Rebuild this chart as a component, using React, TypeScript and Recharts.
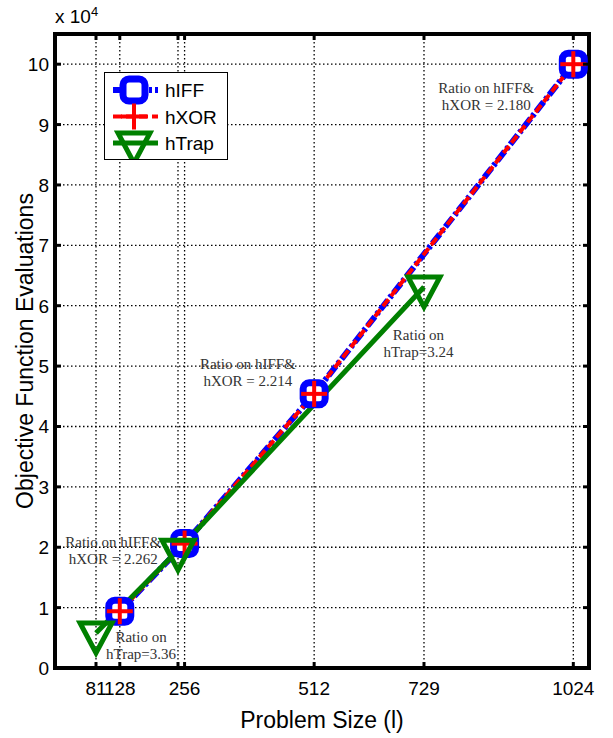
import React from "react"
import { CartesianGrid, Line, LineChart, ReferenceDot, XAxis, YAxis } from "recharts"

// problem sizes (x) and evaluations (y)
const iffSizes = [128, 256, 512, 1024]
const iffEvals = [9400, 20600, 45400, 100000]
const xorSizes = [128, 256, 512, 1024]
const xorEvals = [9400, 20600, 45400, 100000]
const trapSizes = [81, 243, 729]
const trapEvals = [5800, 19500, 63100]

const xTicks = [81, 128, 243, 256, 512, 729, 1024]
const yTicks = [0, 10000, 20000, 30000, 40000, 50000, 60000, 70000, 80000, 90000, 100000]

const noteX = [852, 718, 381, 115, 170]
const noteY = [94700, 53900, 49100, 19550, 3850]
const noteText = [
  ["Ratio on hIFF&", "hXOR = 2.180"],
  ["Ratio on", "hTrap=3.24"],
  ["Ratio on hIFF&", "hXOR = 2.214"],
  ["Ratio on hIFF&", "hXOR = 2.262"],
  ["Ratio on", "hTrap=3.36"],
]

const toPoints = (xs: number[], ys: number[]) => xs.map((x, i) => ({ x, y: ys[i] }))

const SANS = "'Liberation Sans', Arial, sans-serif"
const SERIF = "'Liberation Serif', 'Times New Roman', serif"
const BLUE = "#0000ff"
const RED = "#ff0000"
const GREEN = "#008000"

const CircleMark = ({ cx, cy }: { cx: number; cy: number }) => (
  <rect x={cx - 11} y={cy - 11} width={22} height={22} rx={6} fill="#fff" stroke={BLUE} strokeWidth={7} />
)

const PlusMark = ({ cx, cy }: { cx: number; cy: number }) => (
  <g stroke={RED} strokeWidth={4}>
    <line x1={cx - 13} y1={cy} x2={cx + 13} y2={cy} />
    <line x1={cx} y1={cy - 13} x2={cx} y2={cy + 13} />
  </g>
)

const TriMark = ({ cx, cy }: { cx: number; cy: number }) => (
  <polygon
    points={`${cx - 16},${cy - 10} ${cx + 16},${cy - 10} ${cx},${cy + 20}`}
    fill="none"
    stroke={GREEN}
    strokeWidth={5}
  />
)

const series = [
  { name: "hIFF", data: toPoints(iffSizes, iffEvals), color: BLUE, width: 6, dash: "12 3 3 3", Mark: CircleMark },
  { name: "hXOR", data: toPoints(xorSizes, xorEvals), color: RED, width: 4, dash: "9 4", Mark: PlusMark },
  { name: "hTrap", data: toPoints(trapSizes, trapEvals), color: GREEN, width: 5, dash: undefined, Mark: TriMark },
]

const TICK_LEN = 6

const BottomTick = (props: any) => {
  const { x, y, payload } = props
  const axisY = y - 2
  return (
    <g>
      <line x1={x} y1={axisY} x2={x} y2={axisY - TICK_LEN} stroke="#000" strokeWidth={3} />
      {payload.value !== 243 && (
        <text x={x} y={axisY + 27} textAnchor="middle" fontFamily={SANS} fontSize={19} fill="#000">
          {payload.value}
        </text>
      )}
    </g>
  )
}

const TopTick = (props: any) => {
  const { x, y } = props
  const axisY = y + 2
  return <line x1={x} y1={axisY} x2={x} y2={axisY + TICK_LEN} stroke="#000" strokeWidth={3} />
}

const LeftTick = (props: any) => {
  const { x, y, payload } = props
  const axisX = x + 2
  return (
    <g>
      <line x1={axisX} y1={y} x2={axisX + TICK_LEN} y2={y} stroke="#000" strokeWidth={3} />
      <text x={axisX - 6} y={y + 7} textAnchor="end" fontFamily={SANS} fontSize={19} fill="#000">
        {payload.value / 10000}
      </text>
    </g>
  )
}

const RightTick = (props: any) => {
  const { x, y } = props
  const axisX = x - 2
  return <line x1={axisX} y1={y} x2={axisX - TICK_LEN} y2={y} stroke="#000" strokeWidth={3} />
}

const Note = (lines: string[]) => (props: any) => {
  const { cx, cy } = props
  return (
    <text x={cx} textAnchor="middle" fontFamily={SERIF} fontSize={15} fill="#333">
      <tspan x={cx} y={cy - 3}>
        {lines[0]}
      </tspan>
      <tspan x={cx} y={cy + 14}>
        {lines[1]}
      </tspan>
    </text>
  )
}

const LegendBox = () => (
  <div
    style={{
      position: "absolute",
      left: 104,
      top: 72,
      width: 124,
      height: 88,
      border: "1px solid #000",
      background: "#fff",
      boxSizing: "border-box",
    }}
  >
    <svg width={122} height={86} style={{ position: "absolute", left: 0, top: 0 }}>
      {series.map((s, i) => {
        const cy = 17 + i * 26.5
        const M = s.Mark
        return (
          <g key={s.name}>
            <line x1={8} y1={cy} x2={53} y2={cy} stroke={s.color} strokeWidth={s.width} strokeDasharray={s.dash} />
            <M cx={29} cy={cy} />
            <text x={60} y={cy + 7} fontFamily={SANS} fontSize={19} fill="#000">
              {s.name}
            </text>
          </g>
        )
      })}
    </svg>
  </div>
)

export default function App() {
  return (
    <div style={{ position: "absolute", left: 0, top: 0, width: 613, height: 738, background: "#fff" }}>
      <LineChart width={613} height={738} margin={{ top: 0, right: 0, bottom: 0, left: 0 }}>
        <CartesianGrid stroke="#000" strokeDasharray="1.5 2.5" strokeWidth={1.3} />
        <XAxis
          dataKey="x"
          type="number"
          domain={[0, 1055]}
          ticks={xTicks}
          allowDataOverflow
          height={70}
          tickSize={0}
          tickMargin={2}
          tickLine={false}
          tick={BottomTick}
          interval={0}
          axisLine={{ stroke: "#000", strokeWidth: 4, strokeLinecap: "square" }}
          label={{ value: "Problem Size (l)", position: "insideBottom", offset: 10, fontFamily: SANS, fontSize: 23, fill: "#000" }}
        />
        <XAxis
          xAxisId="top"
          orientation="top"
          dataKey="x"
          type="number"
          domain={[0, 1055]}
          ticks={xTicks}
          allowDataOverflow
          height={34}
          tickSize={0}
          tickMargin={2}
          tickLine={false}
          tick={TopTick}
          interval={0}
          axisLine={{ stroke: "#000", strokeWidth: 4, strokeLinecap: "square" }}
        />
        <YAxis
          type="number"
          domain={[0, 105000]}
          ticks={yTicks}
          allowDataOverflow
          width={55}
          tickSize={0}
          tickMargin={2}
          tickLine={false}
          tick={LeftTick}
          interval={0}
          axisLine={{ stroke: "#000", strokeWidth: 4, strokeLinecap: "square" }}
          label={{
            value: "Objective Function Evaluations",
            angle: -90,
            position: "insideLeft",
            offset: 25,
            style: { textAnchor: "middle" },
            fontFamily: SANS,
            fontSize: 23,
            fill: "#000",
          }}
        />
        <YAxis
          yAxisId="right"
          orientation="right"
          type="number"
          domain={[0, 105000]}
          ticks={yTicks}
          allowDataOverflow
          width={24}
          tickSize={0}
          tickMargin={2}
          tickLine={false}
          tick={RightTick}
          interval={0}
          axisLine={{ stroke: "#000", strokeWidth: 4, strokeLinecap: "square" }}
        />
        {series.map((s) => (
          <Line
            key={s.name}
            data={s.data}
            dataKey="y"
            name={s.name}
            type="linear"
            stroke={s.color}
            strokeWidth={s.width}
            strokeDasharray={s.dash}
            isAnimationActive={false}
            dot={(p: any) => <s.Mark key={`${s.name}-${p.index}`} cx={p.cx} cy={p.cy} />}
            activeDot={false}
          />
        ))}
        {noteText.map((lines, i) => (
          <ReferenceDot key={i} x={noteX[i]} y={noteY[i]} r={0} shape={Note(lines)} />
        ))}
      </LineChart>
      <div style={{ position: "absolute", left: 55, top: 4, fontFamily: SANS, fontSize: 19, color: "#000" }}>
        x 10<sup style={{ fontSize: 13 }}>4</sup>
      </div>
      <LegendBox />
    </div>
  )
}
